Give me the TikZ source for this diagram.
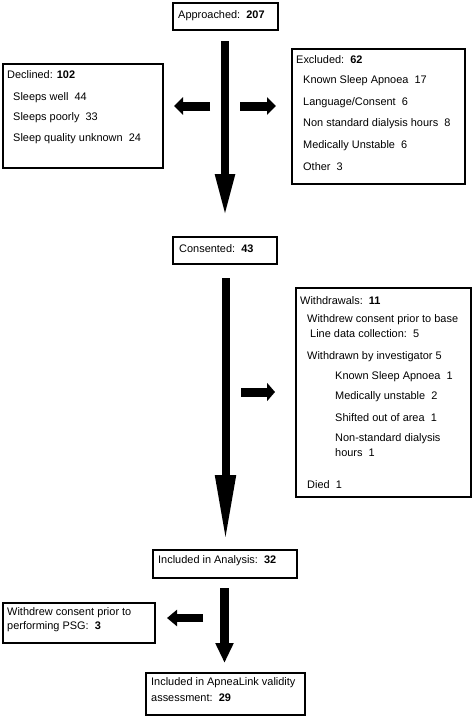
\documentclass[tikz,border=0pt]{standalone}
\usepackage{fontspec}
\setmainfont{Liberation Sans}
\usetikzlibrary{arrows.meta}
\begin{document}
\begin{tikzpicture}[x=1pt,y=-1pt,
  box/.style={draw=black,line width=2pt,anchor=north west,inner sep=0pt},
  txt/.style={anchor=west,inner sep=0pt,font=\fontsize{10.95}{12}\selectfont},
  blk/.style={line width=#1,draw=black}]
\useasboundingbox (0,0) rectangle (472,716);
% boxes
\node[box,minimum width=105pt,minimum height=27pt] (appr) at (172,2) {};
\node[box,minimum width=160pt,minimum height=104pt] (decl) at (2,63) {};
\node[box,minimum width=173pt,minimum height=135pt] (excl) at (291,48) {};
\node[box,minimum width=104pt,minimum height=27pt] (cons) at (172,236) {};
\node[box,minimum width=175pt,minimum height=209pt] (wd) at (295,287) {};
\node[box,minimum width=144pt,minimum height=28pt] (incl) at (152,549) {};
\node[box,minimum width=152pt,minimum height=40pt] (psg) at (2,602) {};
\node[box,minimum width=159pt,minimum height=42pt] (apnea) at (145,672) {};
% texts
\node[txt] (t1) at (178,15.5) {Approached:\ \ \textbf{207}};
\node[txt] (t2) at (7,75) {Declined: \textbf{102}};
\node[txt] (t3) at (13,97.5) {Sleeps well\ \ 44};
\node[txt] (t4) at (13,118) {Sleeps poorly\ \ 33};
\node[txt] (t5) at (13,139) {Sleep quality unknown\ \ 24};
\node[txt] (t6) at (296,60) {Excluded:\ \ \textbf{62}};
\node[txt] (t7) at (303,81) {Known Sleep Apnoea\ \ 17};
\node[txt] (t8) at (303,102.5) {Language/Consent\ \ 6};
\node[txt] (t9) at (303,124) {Non standard dialysis hours\ \ 8};
\node[txt] (t10) at (303,145.5) {Medically Unstable\ \ 6};
\node[txt] (t11) at (303,167) {Other\ \ 3};
\node[txt] (t12) at (179,249) {Consented:\ \ \textbf{43}};
\node[txt] (t13) at (300,300.5) {Withdrawals:\ \ \textbf{11}};
\node[txt] (t14) at (307,320) {Withdrew consent prior to base};
\node[txt] (t15) at (310,334) {Line data collection:\ \ 5};
\node[txt] (t16) at (307,357) {Withdrawn by investigator 5};
\node[txt] (t17) at (335,377) {Known Sleep Apnoea\ \ 1};
\node[txt] (t18) at (335,397) {Medically unstable\ \ 2};
\node[txt] (t19) at (335,418) {Shifted out of area\ \ 1};
\node[txt] (t20) at (335,439) {Non-standard dialysis};
\node[txt] (t21) at (335,453) {hours\ \ 1};
\node[txt] (t22) at (307,485) {Died\ \ 1};
\node[txt] (t23) at (158,561) {Included in Analysis:\ \ \textbf{32}};
\node[txt] (t24) at (7,613) {Withdrew consent prior to};
\node[txt] (t25) at (7,627) {performing PSG:\ \ \textbf{3}};
\node[txt] (t26) at (151,683) {Included in ApneaLink validity};
\node[txt] (t27) at (151,698) {assessment:\ \ \textbf{29}};
% arrow coordinates
\coordinate (a1s) at (225,41);   \coordinate (a1e) at (225,217);
\coordinate (l1s) at (210,106);  \coordinate (l1e) at (174,106);
\coordinate (r1s) at (240,106);  \coordinate (r1e) at (276,106);
\coordinate (a2s) at (225.5,278); \coordinate (a2e) at (225.5,542);
\coordinate (r2s) at (241,392);  \coordinate (r2e) at (275,392);
\coordinate (a3s) at (224.5,588); \coordinate (a3e) at (224.5,663);
\coordinate (l3s) at (203,618);  \coordinate (l3e) at (167,618);
% arrows
\draw[blk=8pt,-{Triangle[width=18pt,length=43pt]}] (a1s) -- (a1e);
\draw[blk=9pt,-{Triangle[width=17pt,length=9pt]}] (l1s) -- (l1e);
\draw[blk=9pt,-{Triangle[width=17pt,length=9pt]}] (r1s) -- (r1e);
\draw[blk=8pt,-{Triangle[width=19pt,length=67pt]}] (a2s) -- (a2e);
\draw[blk=9pt,-{Triangle[width=18pt,length=8pt]}] (r2s) -- (r2e);
\draw[blk=9pt,-{Triangle[width=17pt,length=20pt]}] (a3s) -- (a3e);
\draw[blk=8pt,-{Triangle[width=16pt,length=10pt]}] (l3s) -- (l3e);
\end{tikzpicture}
\end{document}
